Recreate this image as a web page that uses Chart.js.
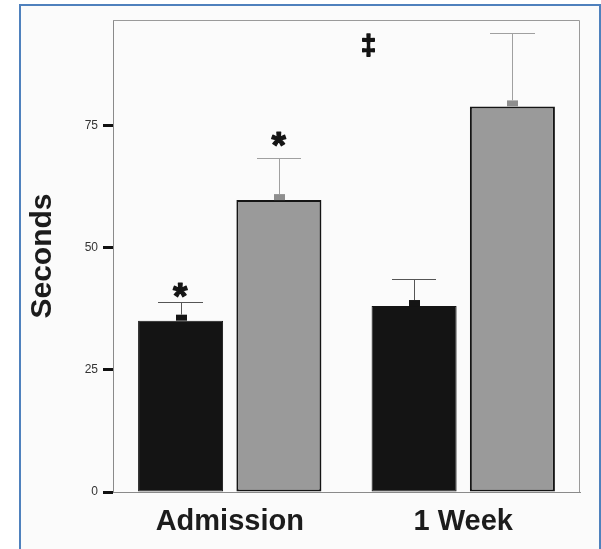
<!DOCTYPE html>
<html>
<head>
<meta charset="utf-8">
<script src="https://cdn.jsdelivr.net/npm/chart.js@4/dist/chart.umd.min.js"></script>
<style>
  html, body { margin: 0; padding: 0; background: #ffffff; }
  #wrap { position: relative; width: 601px; height: 549px; }
  canvas { display: block; }
</style>
</head>
<body>
<div id="wrap"><canvas id="c" width="601" height="549"></canvas></div>
<script>
// Time points on the x axis
const categories = ['Admission', '1 Week'];

// Mean times (seconds) for the two groups
const darkGroup = [35.1, 38.1];
const lightGroup = [59.8, 79.0];

// Standard error above each mean
const darkSem = [3.9, 5.5];
const lightSem = [8.7, 15.1];

// y axis ticks
const yTicks = [0, 25, 50, 75];
const yMax = 96.7;

// significance marks drawn over the error bars: [category index, dataset index, symbol]
const sigMarks = [[0, 0, '*'], [0, 1, '*']];
// overall marker between the time points: [category position, value, symbol]
const overallMark = [0.59, 91.5, '\u2021'];

const FONT = "'Liberation Sans', Arial, Helvetica, sans-serif";

// page frame: light panel with a blue outline
const framePlugin = {
  id: 'frame',
  beforeDraw(chart) {
    const ctx = chart.ctx;
    ctx.save();
    ctx.fillStyle = '#ffffff';
    ctx.fillRect(0, 0, chart.width, chart.height);
    ctx.fillStyle = '#fbfbfb';
    ctx.fillRect(20, 5, chart.width - 20, chart.height - 5);
    ctx.strokeStyle = '#4f81bd';
    ctx.lineWidth = 2;
    ctx.beginPath();
    ctx.moveTo(20, chart.height);
    ctx.lineTo(20, 5);
    ctx.lineTo(600, 5);
    ctx.lineTo(600, chart.height);
    ctx.stroke();
    ctx.restore();
  },
  afterDraw(chart) {
    // top and right edges of the plot box
    const a = chart.chartArea;
    const ctx = chart.ctx;
    ctx.save();
    ctx.strokeStyle = '#9a9a9a';
    ctx.lineWidth = 1;
    ctx.beginPath();
    ctx.moveTo(a.left, a.top + 0.5);
    ctx.lineTo(a.right - 0.5, a.top + 0.5);
    ctx.lineTo(a.right - 0.5, a.bottom);
    ctx.stroke();
    ctx.restore();
  }
};

// draw a heavy symbol with its visible glyph centred on (cx, cy)
function drawCentered(ctx, sym, cx, cy, weight) {
  const m = ctx.measureText(sym);
  const base = cy + (m.actualBoundingBoxAscent - m.actualBoundingBoxDescent) / 2;
  const left = cx - (m.actualBoundingBoxRight + m.actualBoundingBoxLeft) / 2;
  ctx.textAlign = 'left';
  ctx.lineWidth = weight;
  ctx.lineJoin = 'round';
  ctx.strokeText(sym, left, base);
  ctx.fillText(sym, left, base);
}

// upper error bars with a short stub on the bar top, plus significance symbols
const errorPlugin = {
  id: 'errorBars',
  afterDatasetsDraw(chart) {
    const ctx = chart.ctx;
    const y = chart.scales.y;
    const x = chart.scales.x;
    const tops = [];
    chart.data.datasets.forEach((ds, di) => {
      const meta = chart.getDatasetMeta(di);
      tops[di] = [];
      meta.data.forEach((bar, i) => {
        const top = y.getPixelForValue(ds.data[i] + ds.sem[i]);
        tops[di][i] = top;
        const w = bar.width;
        const cx = Math.round(bar.x) + 0.5;
        ctx.save();
        // stub
        ctx.fillStyle = ds.stubColor;
        ctx.fillRect(Math.round(bar.x) - 5, bar.y - 6, 11, 6);
        // whisker
        ctx.strokeStyle = ds.whiskerColor;
        ctx.lineWidth = 1;
        ctx.beginPath();
        ctx.moveTo(cx, bar.y - 6);
        ctx.lineTo(cx, Math.round(top) + 0.5);
        ctx.moveTo(Math.round(bar.x - w * 0.26), Math.round(top) + 0.5);
        ctx.lineTo(Math.round(bar.x + w * 0.26), Math.round(top) + 0.5);
        ctx.stroke();
        ctx.restore();
      });
    });

    ctx.save();
    ctx.fillStyle = '#141414';
    ctx.strokeStyle = '#141414';
    ctx.textBaseline = 'alphabetic';
    ctx.font = 'bold 37px ' + FONT;
    sigMarks.forEach(([ci, di, sym]) => {
      const bar = chart.getDatasetMeta(di).data[ci];
      const gap = di === 0 ? 12 : 19;
      drawCentered(ctx, sym, bar.x, tops[di][ci] - gap, 1.2);
    });
    ctx.font = 'bold 27px ' + FONT;
    {
      const [pos, val, sym] = overallMark;
      drawCentered(ctx, sym, x.getPixelForValue(pos), y.getPixelForValue(val), 1.6);
    }
    ctx.restore();
  }
};

new Chart(document.getElementById('c'), {
  type: 'bar',
  data: {
    labels: categories,
    datasets: [
      {
        data: darkGroup,
        sem: darkSem,
        backgroundColor: '#141414',
        borderColor: '#141414',
        borderWidth: 1,
        borderSkipped: false,
        stubColor: '#141414',
        whiskerColor: '#555555'
      },
      {
        data: lightGroup,
        sem: lightSem,
        backgroundColor: '#9a9a9a',
        borderColor: '#151515',
        borderWidth: 2,
        borderSkipped: false,
        stubColor: '#8e8e8e',
        whiskerColor: '#a0a0a0'
      }
    ]
  },
  options: {
    responsive: false,
    devicePixelRatio: 1,
    animation: false,
    events: [],
    layout: { padding: { left: 0, top: 20, right: 21, bottom: 0 } },
    plugins: { legend: { display: false }, tooltip: { enabled: false } },
    datasets: { bar: { categoryPercentage: 0.842, barPercentage: 0.865 } },
    scales: {
      x: {
        grid: { display: false, drawTicks: false },
        border: { display: true, color: '#8a8a8a', width: 1 },
        ticks: {
          color: '#1c1c1c',
          padding: 13,
          font: { family: FONT, size: 29, weight: 'bold' }
        },
        afterFit(s) { s.height = 57; }
      },
      y: {
        min: 0,
        max: yMax,
        afterBuildTicks(s) { s.ticks = yTicks.map(v => ({ value: v })); },
        grid: {
          drawOnChartArea: false,
          drawTicks: true,
          tickLength: 10,
          tickWidth: 3,
          tickColor: '#111111'
        },
        border: { display: true, color: '#8a8a8a', width: 1 },
        ticks: {
          color: '#333333',
          padding: 5,
          font: { family: FONT, size: 12 }
        },
        title: {
          display: true,
          text: 'Seconds',
          color: '#1c1c1c',
          padding: { top: 25, bottom: 0 },
          font: { family: FONT, size: 30, weight: 'bold' }
        },
        afterFit(s) { s.width = 113; }
      }
    }
  },
  plugins: [framePlugin, errorPlugin]
});
</script>
</body>
</html>
